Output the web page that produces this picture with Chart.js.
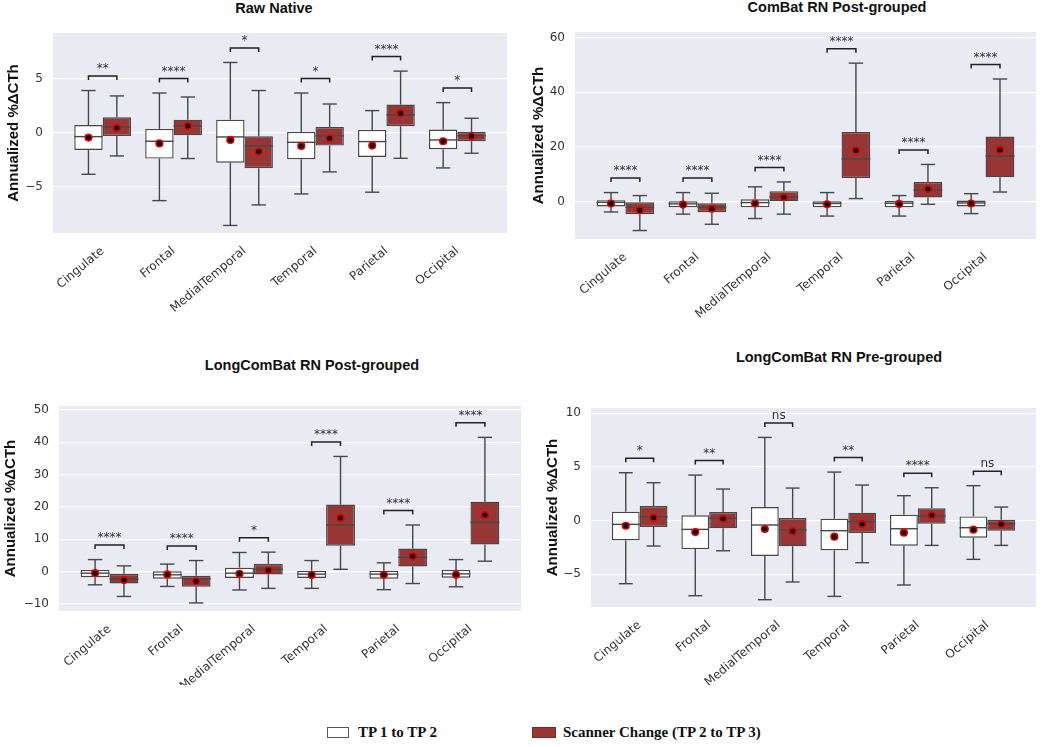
<!DOCTYPE html>
<html>
<head>
<meta charset="utf-8">
<script src="https://cdn.jsdelivr.net/npm/chart.js@4/dist/chart.umd.min.js"></script>
<style>
  body { margin: 0; width: 1050px; height: 747px; background: #fff; position: relative; overflow: hidden; }
  canvas { position: absolute; }
  .ttl { position: absolute; transform: translateX(-50%); white-space: nowrap;
         font: bold 14.5px 'Liberation Sans', Arial, sans-serif; color: #111; line-height: 17px; }
  .sw { position: absolute; width: 22px; height: 11px; box-sizing: border-box; }
  .lt { position: absolute; font: bold 15px 'Liberation Serif', 'Times New Roman', serif; color: #111; line-height: 17px; white-space: nowrap; }
</style>
</head>
<body>

<div class="ttl" style="left:274px;top:0px">Raw Native</div>
<div class="ttl" style="left:837px;top:-1px">ComBat RN Post-grouped</div>
<div class="ttl" style="left:312px;top:357px">LongComBat RN Post-grouped</div>
<div class="ttl" style="left:839px;top:349px">LongComBat RN Pre-grouped</div>

<canvas id="c1" width="520" height="320" style="left:0;top:0"></canvas>
<canvas id="c2" width="530" height="330" style="left:520px;top:0"></canvas>
<canvas id="c3" width="525" height="345" style="left:0;top:340px"></canvas>
<canvas id="c4" width="525" height="345" style="left:525px;top:340px"></canvas>

<div class="sw" style="left:327px;top:727px;background:#fff;border:1px solid #555"></div>
<div class="lt" style="left:358px;top:724px">TP 1 to TP 2</div>
<div class="sw" style="left:532px;top:727px;width:24px;background:#983636;border:1px solid #7a2b2b"></div>
<div class="lt" style="left:563px;top:724px">Scanner Change (TP 2 to TP 3)</div>

<script>
const regions = ['Cingulate', 'Frontal', 'MedialTemporal', 'Temporal', 'Parietal', 'Occipital'];

// each row: [low whisker, Q1, median, Q3, high whisker, mean]
const rawTp12 = [
  [-3.86, -1.6, -0.37, 0.7, 3.9, -0.46],
  [-6.3, -2.4, -0.8, 0.34, 3.67, -1.0],
  [-8.6, -2.78, -0.4, 1.2, 6.5, -0.68],
  [-5.68, -2.47, -0.9, 0.06, 3.67, -1.23],
  [-5.52, -2.25, -0.83, 0.25, 2.04, -1.2],
  [-3.27, -1.54, -0.68, 0.28, 2.78, -0.8]
];
const rawScan = [
  [-2.16, -0.31, 0.52, 1.42, 3.4, 0.43],
  [-2.4, -0.25, 0.62, 1.2, 3.3, 0.62],
  [-6.7, -3.3, -1.23, -0.34, 3.9, -1.76],
  [-3.64, -1.2, -0.3, 0.52, 2.65, -0.52],
  [-2.38, 0.59, 1.64, 2.6, 5.7, 1.79],
  [-1.91, -0.8, -0.28, 0.06, 1.33, -0.34]
];
const rawSig = ['**', '****', '*', '*', '****', '*'];
const rawTicks = [-5, 0, 5];

const combatTp12 = [
  [-3.8, -1.8, -0.25, 0.5, 3.3, -0.7],
  [-4.6, -2.1, -0.85, 0.1, 3.3, -1.1],
  [-6.2, -2.1, -0.37, 0.85, 5.4, -0.7],
  [-5.3, -2.1, -0.7, 0.1, 3.3, -1.0],
  [-5.3, -2.1, -0.6, 0.25, 2.2, -0.85],
  [-4.4, -1.8, -0.5, 0.37, 2.9, -0.7]
];
const combatScan = [
  [-10.6, -4.6, -2.1, -0.25, 2.2, -3.2],
  [-8.3, -3.9, -2.1, -0.6, 3.05, -2.6],
  [-4.6, 0.1, 1.7, 3.8, 7.2, 1.6],
  [1.1, 8.6, 15.6, 25.5, 50.7, 18.7],
  [-1.0, 1.5, 4.3, 7.2, 13.6, 4.6],
  [3.5, 8.9, 16.7, 23.8, 44.9, 18.9]
];
const combatSig = ['****', '****', '****', '****', '****', '****'];
const combatTicks = [0, 20, 40, 60];

const longPostTp12 = [
  [-4.1, -1.75, -0.5, 0.5, 3.7, -0.5],
  [-4.6, -2.2, -1.0, 0.1, 2.3, -0.9],
  [-5.7, -2.0, -0.5, 1.2, 5.9, -0.7],
  [-5.2, -2.0, -0.8, 0.2, 3.4, -1.1],
  [-5.6, -2.2, -0.8, 0.2, 2.7, -1.0],
  [-4.7, -1.9, -0.7, 0.5, 3.7, -1.0]
];
const longPostScan = [
  [-7.7, -3.7, -2.3, -0.7, 1.75, -2.6],
  [-9.7, -4.7, -2.2, -1.3, 3.4, -3.0],
  [-5.2, -0.9, 0.7, 2.4, 6.0, 0.4],
  [0.7, 8.0, 14.4, 20.7, 35.6, 16.6],
  [-3.7, 1.6, 4.4, 7.1, 14.4, 4.7],
  [3.2, 8.4, 15.2, 21.6, 41.5, 17.5]
];
const longPostSig = ['****', '****', '*', '****', '****', '****'];
const longPostTicks = [-10, 0, 10, 20, 30, 40, 50];

const longPreTp12 = [
  [-5.87, -1.83, -0.34, 0.84, 4.47, -0.47],
  [-6.99, -2.64, -0.81, 0.5, 4.25, -1.06],
  [-7.36, -3.29, -0.4, 1.27, 7.76, -0.78],
  [-7.05, -2.76, -0.93, 0.19, 4.53, -1.49],
  [-5.99, -2.33, -0.75, 0.56, 2.33, -1.12],
  [-3.6, -1.58, -0.65, 0.4, 3.26, -0.84]
];
const longPreScan = [
  [-2.36, -0.59, 0.37, 1.37, 3.54, 0.28],
  [-2.8, -0.71, 0.22, 0.81, 2.95, 0.19],
  [-5.71, -2.39, -0.87, 0.25, 3.04, -0.99],
  [-3.91, -1.15, -0.09, 0.75, 3.32, -0.31],
  [-2.3, -0.28, 0.43, 1.15, 3.07, 0.5],
  [-2.3, -0.93, -0.28, 0.09, 1.27, -0.34]
];
const longPreSig = ['*', '**', 'ns', '**', '****', 'ns'];
const longPreTicks = [-5, 0, 5, 10];

const edge = '#474747';

// background of the axes, like seaborn darkgrid
const bgPlugin = {
  id: 'bg',
  beforeDraw(chart) {
    const a = chart.chartArea, ctx = chart.ctx;
    ctx.save();
    ctx.fillStyle = '#eaeaf2';
    ctx.fillRect(a.left, a.top, a.right - a.left, a.bottom - a.top);
    ctx.restore();
  }
};

// whiskers, medians, means and the significance brackets
const boxParts = {
  id: 'boxParts',
  afterDatasetsDraw(chart) {
    const ctx = chart.ctx, ys = chart.scales.y;
    const py = v => ys.getPixelForValue(v);
    const line = (x1, y1, x2, y2) => { ctx.beginPath(); ctx.moveTo(x1, y1); ctx.lineTo(x2, y2); ctx.stroke(); };
    ctx.save();
    chart.data.datasets.forEach((ds, d) => {
      chart.getDatasetMeta(d).data.forEach((bar, i) => {
        const [lo, q1, med, q3, hi, mean] = ds.stats[i];
        const x = bar.x, w = bar.width;
        ctx.strokeStyle = edge;
        ctx.lineWidth = 1.4;
        line(x, py(hi), x, py(q3));
        line(x, py(q1), x, py(lo));
        line(x - w / 4, py(hi), x + w / 4, py(hi));
        line(x - w / 4, py(lo), x + w / 4, py(lo));
        line(x - w / 2, py(med), x + w / 2, py(med));
        ctx.beginPath();
        ctx.arc(x, py(mean), 3.3, 0, Math.PI * 2);
        ctx.fillStyle = '#000';
        ctx.fill();
        ctx.strokeStyle = '#e00000';
        ctx.lineWidth = 1.6;
        ctx.stroke();
      });
    });
    // brackets
    const m0 = chart.getDatasetMeta(0).data, m1 = chart.getDatasetMeta(1).data;
    const a = chart.data.datasets[0].stats, b = chart.data.datasets[1].stats;
    const sig = chart.options.plugins.boxParts.sig;
    ctx.strokeStyle = '#222';
    ctx.lineWidth = 1.5;
    ctx.fillStyle = '#333';
    ctx.font = '12px "DejaVu Sans"';
    ctx.textAlign = 'center';
    ctx.textBaseline = 'bottom';
    m0.forEach((bar, i) => {
      const x1 = bar.x, x2 = m1[i].x;
      const top = py(Math.max(a[i][4], b[i][4])) - 14.5;
      ctx.beginPath();
      ctx.moveTo(x1, top + 4);
      ctx.lineTo(x1, top);
      ctx.lineTo(x2, top);
      ctx.lineTo(x2, top + 4);
      ctx.stroke();
      ctx.fillText(sig[i], (x1 + x2) / 2, top - 1);
    });
    ctx.restore();
  }
};

function makePanel(id, tp12, scan, sig, yMin, yMax, yTicks, lay) {
  const tickFont = { family: 'DejaVu Sans', size: 12 };
  new Chart(document.getElementById(id), {
    type: 'bar',
    data: {
      datasets: [
        {
          label: 'TP 1 to TP 2',
          data: tp12.map((r, i) => ({ x: i, y: [r[1], r[3]] })),
          stats: tp12,
          backgroundColor: '#ffffff',
          borderColor: edge,
          borderWidth: 1.4,
          borderSkipped: false
        },
        {
          label: 'Scanner Change (TP 2 to TP 3)',
          data: scan.map((r, i) => ({ x: i, y: [r[1], r[3]] })),
          stats: scan,
          backgroundColor: '#983636',
          borderColor: edge,
          borderWidth: 1.4,
          borderSkipped: false
        }
      ]
    },
    options: {
      responsive: false,
      animation: false,
      layout: { padding: { left: 0, right: lay.right, top: lay.top, bottom: 0 } },
      datasets: { bar: { categoryPercentage: 0.8, barPercentage: 1.0 } },
      plugins: {
        legend: { display: false },
        title: { display: false },
        tooltip: { enabled: false },
        boxParts: { sig: sig }
      },
      scales: {
        x: {
          type: 'linear',
          min: -0.7, max: 5.7,
          offset: false,
          grid: { display: false },
          border: { display: false },
          afterBuildTicks: ax => { ax.ticks = regions.map((r, i) => ({ value: i })); },
          afterFit: ax => { ax.height = lay.xH; },
          ticks: {
            autoSkip: false,
            minRotation: 40, maxRotation: 40,
            padding: 3,
            color: '#333',
            font: tickFont,
            callback: v => regions[v]
          }
        },
        y: {
          min: yMin, max: yMax,
          afterBuildTicks: ax => { ax.ticks = yTicks.map(v => ({ value: v })); },
          afterFit: ax => { ax.width = lay.yW; },
          grid: { color: '#ffffff', lineWidth: 1.2, drawTicks: false },
          border: { display: false },
          ticks: {
            padding: 10,
            color: '#333',
            font: tickFont,
            callback: v => v < 0 ? '\u2212' + (-v) : String(v)
          },
          title: {
            display: true,
            text: 'Annualized %\u0394CTh',
            color: '#111',
            font: { family: 'Liberation Sans', weight: 'bold', size: 15 },
            padding: { top: lay.tp, bottom: 0 }
          }
        }
      }
    },
    plugins: [bgPlugin, boxParts]
  });
}

makePanel('c1', rawTp12, rawScan, rawSig, -9.3, 9.23, rawTicks, { top: 33, right: 13, yW: 53, xH: 87, tp: 5 });
makePanel('c2', combatTp12, combatScan, combatSig, -13.7, 62.1, combatTicks, { top: 32, right: 14, yW: 55, xH: 91, tp: 10 });
makePanel('c3', longPostTp12, longPostScan, longPostSig, -12.2, 51.2, longPostTicks, { top: 66, right: 4, yW: 59, xH: 74, tp: 2 });
makePanel('c4', longPreTp12, longPreScan, longPreSig, -8.04, 10.5, longPreTicks, { top: 68, right: 14, yW: 66, xH: 78, tp: 18.5 });
</script>
</body>
</html>
